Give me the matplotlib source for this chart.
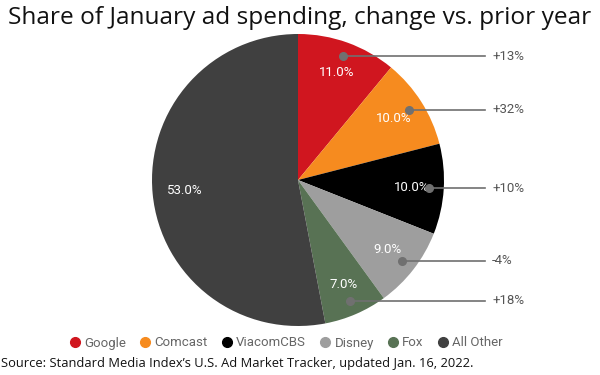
import numpy as np
import matplotlib
matplotlib.use("Agg")
import matplotlib.pyplot as plt
from matplotlib.lines import Line2D

categories = ["Google", "Comcast", "ViacomCBS", "Disney", "Fox", "All Other"]
shares = [11.0, 10.0, 10.0, 9.0, 7.0, 53.0]
changes = ["+13%", "+32%", "+10%", "-4%", "+18%", None]
colors = ["#d0161f", "#f68b1f", "#000000", "#9e9e9e", "#587254", "#404040"]

fig = plt.figure(figsize=(6, 3.75), dpi=100)
cx, cy, r = 298, 375 - 180, 146
ax = fig.add_axes([(cx - r) / 600, (cy - r) / 375, 2 * r / 600, 2 * r / 375])
wedges, texts, autotexts = ax.pie(
    shares, colors=colors, startangle=90, counterclock=False,
    autopct="%.1f%%", pctdistance=0.78, radius=1.0,
    textprops=dict(color="white", fontsize=9.5, family="Roboto"),
    wedgeprops=dict(linewidth=0))
ax.set_xlim(-1, 1)
ax.set_ylim(-1, 1)
ax.set_aspect("equal")
ax.axis("off")

for w, ch in zip(wedges, changes):
    if ch is None:
        continue
    ang = np.deg2rad((w.theta1 + w.theta2) / 2)
    x, y = 0.9 * np.cos(ang), 0.9 * np.sin(ang)
    ax.plot([x, 1.28], [y, y], color="#707070", lw=1.2, clip_on=False, zorder=5)
    ax.plot([x], [y], "o", color="#707070", ms=5.5, clip_on=False, zorder=6)
    ax.text(1.33, y, ch, ha="left", va="center", fontsize=9.5,
            color="#555555", family="Roboto", clip_on=False)

fig.text(0.5, 1 - 18 / 375, "Share of January ad spending, change vs. prior year",
         ha="center", va="center", fontsize=17.6, family="Open Sans", color="#111111")
fig.text(1 / 600, 1 - 364 / 375,
         "Source: Standard Media Index\u2019s U.S. Ad Market Tracker, updated Jan. 16, 2022.",
         ha="left", va="center", fontsize=9.3, family="Open Sans", color="#111111")

handles = [Line2D([], [], marker="o", ls="none", color=c, ms=7) for c in colors]
fig.legend(handles, categories, loc="center", bbox_to_anchor=(285 / 600, 1 - 343 / 375),
           ncol=6, frameon=False, handletextpad=0.1, columnspacing=0.85,
           handlelength=1.2, prop=dict(family="Roboto", size=9.5),
           labelcolor="#666666")

fig.savefig("out.png", dpi=100)
